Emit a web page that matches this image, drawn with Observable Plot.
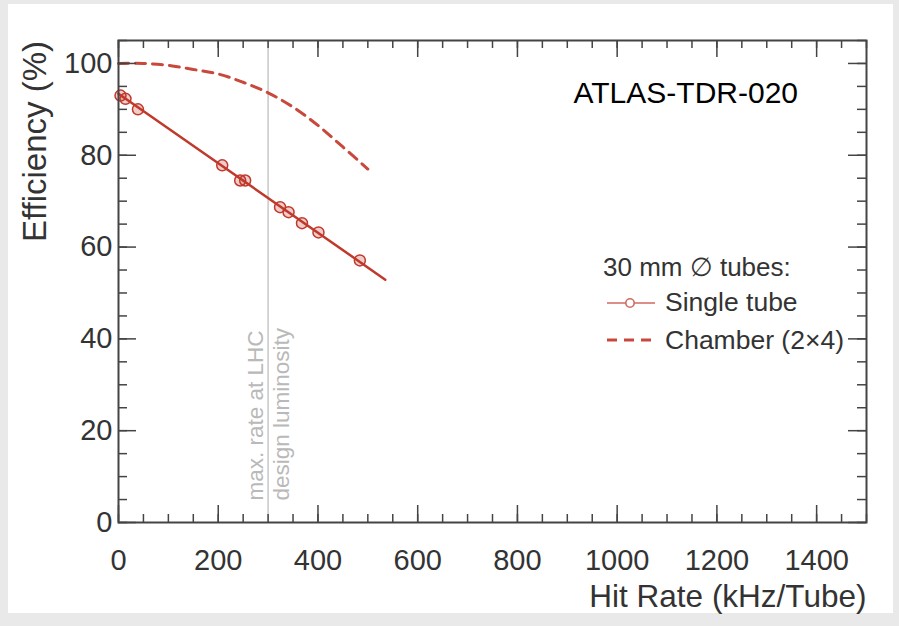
<!DOCTYPE html>
<html>
<head>
<meta charset="utf-8">
<script src="https://cdn.jsdelivr.net/npm/d3@7"></script>
<script src="https://cdn.jsdelivr.net/npm/@observablehq/plot@0.6"></script>
<style>
  html, body { margin: 0; padding: 0; background: #e9e9e9; }
  #wrap { position: relative; width: 899px; height: 626px; overflow: hidden; }
  #paper { position: absolute; left: 8px; top: 4px; width: 885px; height: 609px; background: #fff; }
  #chart { position: absolute; left: 0; top: 0; }
  #legend { position: absolute; left: 0; top: 0; }
</style>
</head>
<body>
<div id="wrap">
  <div id="paper"></div>
  <div id="chart"></div>
  <svg id="legend" width="899" height="626" font-family="Liberation Sans, Arial, sans-serif">
    <text x="603" y="276" font-size="26" fill="#333">30 mm ∅ tubes:</text>
    <line x1="607" x2="655" y1="303" y2="303" stroke="#d06a60" stroke-width="1.6"></line>
    <circle cx="630" cy="303" r="4.2" fill="#fff" stroke="#d06a60" stroke-width="1.6"></circle>
    <text x="665" y="311" font-size="26.5" fill="#333">Single tube</text>
    <line x1="607" x2="658" y1="340" y2="340" stroke="#c9483c" stroke-width="3" stroke-dasharray="10,7"></line>
    <text x="665" y="349" font-size="26.5" fill="#333">Chamber (2×4)</text>
  </svg>
</div>
<script>
// ---- data ----
const singleX = [4, 14, 39, 208, 244, 254, 324, 341, 368, 401, 484];
const singleY = [93.0, 92.3, 90.0, 77.8, 74.5, 74.5, 68.7, 67.6, 65.2, 63.2, 57.1];

const fitX = [0, 535];
const fitY = [93.4, 52.9];

const chamberX = [0, 50, 100, 150, 200, 250, 300, 350, 400, 450, 500];
const chamberY = [100, 100, 99.6, 98.7, 97.7, 95.9, 93.6, 90.5, 86.5, 81.8, 77.0];

const lhcRate = [300];
const lhcLabel = "max. rate at LHC\ndesign luminosity";

const xTickLabels = [0, 200, 400, 600, 800, 1000, 1200, 1400];
const yTickLabels = [0, 20, 40, 60, 80, 100];
const xMinorTicks = d3.range(0, 1501, 50);
const yMinorTicks = d3.range(0, 106, 5);

const xTitle = "Hit Rate (kHz/Tube)";
const yTitle = "Efficiency (%)";
const stamp = "ATLAS-TDR-020";

// ---- tables ----
const single = singleX.map((x, i) => ({x, y: singleY[i]}));
const fit = fitX.map((x, i) => ({x, y: fitY[i]}));
const chamber = chamberX.map((x, i) => ({x, y: chamberY[i]}));

const W = 899, H = 626;
const mL = 118, mR = 33, mT = 40, mB = 104;
const FW = W - mL - mR, FH = H - mT - mB;
const tickCol = "#444";

const chart = Plot.plot({
  width: W,
  height: H,
  marginLeft: mL,
  marginRight: mR,
  marginTop: mT,
  marginBottom: mB,
  style: {background: "transparent", fontFamily: "Liberation Sans, Arial, sans-serif", fontSize: "30px", color: "#333"},
  x: {domain: [0, 1500]},
  y: {domain: [0, 105]},
  marks: [
    Plot.ruleX(lhcRate, {x: d => d, stroke: "#c8c8c8", strokeWidth: 1.5}),
    Plot.text([lhcLabel], {x: () => lhcRate[0], y: () => 4.8, text: d => d, rotate: -90, textAnchor: "start", lineAnchor: "middle", lineHeight: 1.15, fontSize: 22.5, fill: "#b9b9b9", dx: 0}),
    Plot.line(chamber, {x: "x", y: "y", curve: "catmull-rom", stroke: "#c9483c", strokeWidth: 3, strokeDasharray: "10,7"}),
    Plot.line(fit, {x: "x", y: "y", stroke: "#c0392b", strokeWidth: 2.5}),
    Plot.dot(single, {x: "x", y: "y", r: 5.5, stroke: "#c0392b", strokeWidth: 1.5, fill: "#c0392b", fillOpacity: 0.25}),
    // inward ticks on all four sides
    Plot.tickY(yMinorTicks, {y: d => d, insetRight: FW - 9, stroke: tickCol, strokeWidth: 1.5}),
    Plot.tickY(yTickLabels, {y: d => d, insetRight: FW - 18, stroke: tickCol, strokeWidth: 1.5}),
    Plot.tickY(yMinorTicks, {y: d => d, insetLeft: FW - 9, stroke: tickCol, strokeWidth: 1.5}),
    Plot.tickY(yTickLabels, {y: d => d, insetLeft: FW - 18, stroke: tickCol, strokeWidth: 1.5}),
    Plot.tickX(xMinorTicks, {x: d => d, insetTop: FH - 8, stroke: tickCol, strokeWidth: 1.5}),
    Plot.tickX(xTickLabels, {x: d => d, insetTop: FH - 17, stroke: tickCol, strokeWidth: 1.5}),
    Plot.tickX(xMinorTicks, {x: d => d, insetBottom: FH - 8, stroke: tickCol, strokeWidth: 1.5}),
    Plot.tickX(xTickLabels, {x: d => d, insetBottom: FH - 17, stroke: tickCol, strokeWidth: 1.5}),
    Plot.frame({stroke: tickCol, strokeWidth: 2}),
    Plot.axisX({ticks: xTickLabels, tickSize: 0, tickPadding: 27, label: null, fontSize: 29, tickFormat: d => String(d)}),
    Plot.axisY({ticks: yTickLabels, tickSize: 0, tickPadding: 6, label: null, fontSize: 29, tickFormat: d => String(d)}),
    Plot.text([xTitle], {text: d => d, frameAnchor: "bottom-right", textAnchor: "end", lineAnchor: "top", dy: 62, fontSize: 31.5, fill: "#333"}),
    Plot.text([yTitle], {text: d => d, frameAnchor: "top-left", rotate: -90, textAnchor: "middle", lineAnchor: "middle", dx: -83, dy: 101, fontSize: 33, fill: "#333"}),
    Plot.text([stamp], {text: d => d, frameAnchor: "top-left", textAnchor: "start", lineAnchor: "middle", dx: 455, dy: 53, fontSize: 30, fill: "#000"})
  ]
});
document.getElementById("chart").appendChild(chart);
</script>
</body>
</html>
